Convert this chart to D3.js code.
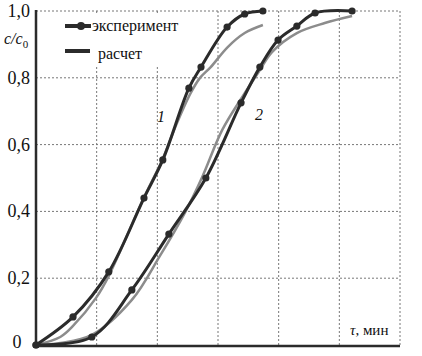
<!DOCTYPE html>
<html>
<head>
<meta charset="utf-8">
<script src="https://cdn.jsdelivr.net/npm/d3@7"></script>
<style>
  body { margin: 0; background: #fff; }
  svg text { font-family: "Liberation Serif", "Times New Roman", Tinos, "DejaVu Serif", serif; }
</style>
</head>
<body>
<div id="chart"></div>
<script>
// experimental curves (markers) and calculated curves, tau in grid units, c/c0
const exp1X = [0, 0.61, 1.20, 1.78, 2.09, 2.52, 2.72, 3.15, 3.44, 3.74];
const exp1Y = [0, 0.084, 0.219, 0.440, 0.554, 0.769, 0.832, 0.952, 0.991, 1.0];
const exp2X = [0, 0.92, 1.58, 2.19, 2.80, 3.38, 3.69, 3.99, 4.30, 4.60, 5.21];
const exp2Y = [0, 0.024, 0.165, 0.332, 0.500, 0.725, 0.832, 0.913, 0.955, 0.994, 1.0];
const calc1X = [0, 0.40, 0.61, 0.99, 1.20, 1.76, 2.08, 2.29, 2.54, 2.70, 2.88, 3.16, 3.44, 3.74];
const calc1Y = [0, 0.024, 0.057, 0.141, 0.207, 0.434, 0.554, 0.650, 0.751, 0.799, 0.832, 0.892, 0.934, 0.958];
const calc2X = [0, 0.40, 0.92, 1.58, 2.04, 2.46, 2.74, 3.07, 3.44, 3.69, 3.89, 4.30, 4.76, 5.21];
const calc2Y = [0, 0.006, 0.030, 0.135, 0.266, 0.398, 0.503, 0.644, 0.754, 0.823, 0.877, 0.934, 0.964, 0.985];
const yTicks = [0.2, 0.4, 0.6, 0.8, 1.0];
const yTickLabels = ["0,2", "0,4", "0,6", "0,8", "1,0"];
const xGrid = [1, 2, 3, 4, 5, 6];

const width = 422, height = 356;
const x = d3.scaleLinear().domain([0, 6]).range([36, 400]);
const y = d3.scaleLinear().domain([0, 1]).range([345, 11]);

const svg = d3.select("#chart").append("svg")
  .attr("width", width)
  .attr("height", height)
  .style("display", "block");

const dark = "#2b2b2b", gray = "#8c8c8c";

// grid
svg.append("g").selectAll("line")
  .data(yTicks)
  .enter().append("line")
  .attr("x1", x(0)).attr("x2", x(6))
  .attr("y1", d => y(d)).attr("y2", d => y(d))
  .attr("stroke", "#777").attr("stroke-width", 1)
  .attr("stroke-dasharray", "2,2");

svg.append("g").selectAll("line")
  .data(xGrid)
  .enter().append("line")
  .attr("x1", d => x(d)).attr("x2", d => x(d))
  .attr("y1", y(0)).attr("y2", y(1))
  .attr("stroke", "#777").attr("stroke-width", 1)
  .attr("stroke-dasharray", "2,2");

// white box behind legend
svg.append("rect")
  .attr("x", 38).attr("y", 13)
  .attr("width", 158).attr("height", 54)
  .attr("fill", "#fff");

// axes
svg.append("line")
  .attr("x1", x(0)).attr("x2", x(0))
  .attr("y1", y(1) - 1).attr("y2", y(0) + 1)
  .attr("stroke", dark).attr("stroke-width", 2.5);
svg.append("line")
  .attr("x1", x(0)).attr("x2", x(6))
  .attr("y1", y(0) + 1).attr("y2", y(0) + 1)
  .attr("stroke", dark).attr("stroke-width", 2.5);

// y tick labels
svg.append("g").selectAll("text")
  .data(yTicks)
  .enter().append("text")
  .attr("x", 30)
  .attr("y", d => y(d) + 6)
  .attr("text-anchor", "end")
  .attr("font-size", 18)
  .attr("fill", "#111")
  .text((d, i) => yTickLabels[i]);

svg.append("text")
  .attr("x", 17).attr("y", 348)
  .attr("text-anchor", "middle")
  .attr("font-size", 18)
  .attr("fill", "#111")
  .text("0");

// axis titles
const yTitle = svg.append("text")
  .attr("x", 4).attr("y", 44)
  .attr("font-size", 16)
  .attr("font-style", "italic")
  .attr("fill", "#111");
yTitle.append("tspan").text("c/c");
yTitle.append("tspan").attr("dy", 4).attr("font-size", 11).attr("font-style", "normal").text("0");

const xTitle = svg.append("text")
  .attr("x", 350).attr("y", 335)
  .attr("font-size", 15)
  .attr("fill", "#111");
xTitle.append("tspan").attr("font-style", "italic").text("τ");
xTitle.append("tspan").text(",  мин");

// curves
const line = d3.line()
  .x(d => x(d[0]))
  .y(d => y(d[1]))
  .curve(d3.curveCatmullRom.alpha(0.5));

function pts(xs, ys) { return xs.map((v, i) => [v, ys[i]]); }

[pts(calc1X, calc1Y), pts(calc2X, calc2Y)].forEach(p => {
  svg.append("path")
    .attr("d", line(p))
    .attr("fill", "none")
    .attr("stroke", gray)
    .attr("stroke-width", 2.5);
});

[pts(exp1X, exp1Y), pts(exp2X, exp2Y)].forEach(p => {
  svg.append("path")
    .attr("d", line(p))
    .attr("fill", "none")
    .attr("stroke", dark)
    .attr("stroke-width", 3);
  svg.append("g").selectAll("circle")
    .data(p)
    .enter().append("circle")
    .attr("cx", d => x(d[0]))
    .attr("cy", d => y(d[1]))
    .attr("r", 3.6)
    .attr("fill", dark);
});

// curve labels
svg.append("text").attr("x", 157).attr("y", 122)
  .attr("font-size", 16).attr("font-style", "italic").attr("fill", "#111").text("1");
svg.append("text").attr("x", 255).attr("y", 120)
  .attr("font-size", 16).attr("font-style", "italic").attr("fill", "#111").text("2");

// legend
svg.append("line")
  .attr("x1", 65).attr("x2", 91).attr("y1", 26).attr("y2", 26)
  .attr("stroke", dark).attr("stroke-width", 4);
svg.append("circle").attr("cx", 81).attr("cy", 26).attr("r", 4).attr("fill", dark);
svg.append("text").attr("x", 92).attr("y", 31)
  .attr("font-size", 16).attr("fill", "#111").text("эксперимент");

svg.append("line")
  .attr("x1", 65).attr("x2", 90).attr("y1", 51).attr("y2", 51)
  .attr("stroke", dark).attr("stroke-width", 4);
svg.append("text").attr("x", 98).attr("y", 59)
  .attr("font-size", 16).attr("fill", "#111").text("расчет");
</script>
</body>
</html>
